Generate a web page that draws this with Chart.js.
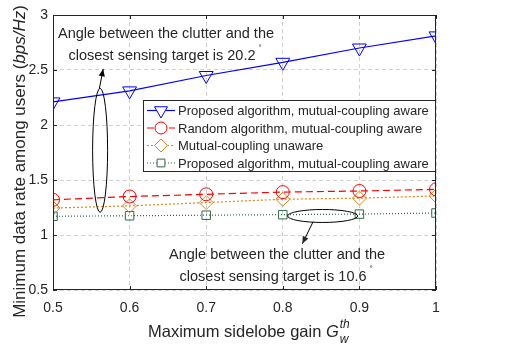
<!DOCTYPE html>
<html>
<head>
<meta charset="utf-8">
<script src="https://cdn.jsdelivr.net/npm/chart.js@4/dist/chart.umd.min.js"></script>
<style>
  html, body { margin: 0; padding: 0; background: #fff; }
  #wrap { width: 505px; height: 344px; }
</style>
</head>
<body>
<div id="wrap"><canvas id="lineChart" width="505" height="344"></canvas></div>
<script>
var gains = [0.5, 0.6, 0.7, 0.8, 0.9, 1.0];
var proposedAware = [2.21, 2.31, 2.45, 2.57, 2.70, 2.81];
var randomAware = [1.32, 1.35, 1.37, 1.39, 1.40, 1.415];
var couplingUnaware = [1.245, 1.265, 1.295, 1.325, 1.335, 1.355];
var proposedAware106 = [1.17, 1.175, 1.18, 1.185, 1.19, 1.20];
var xTicks = [0.5, 0.6, 0.7, 0.8, 0.9, 1];
var yTicks = [0.5, 1, 1.5, 2, 2.5, 3];
var seriesNames = [
  "Proposed algorithm, mutual-coupling aware",
  "Random algorithm, mutual-coupling aware",
  "Mutual-coupling unaware",
  "Proposed algorithm, mutual-coupling aware"
];

var FONT = "Liberation Sans, Arial, sans-serif";
var orange = "#E0861A";
var green = "#2F6B4A";

function pts(arr) {
  return arr.map(function (v, i) { return { x: gains[i], y: v }; });
}

// matlab style legend, annotations, axis titles and frame
var extras = {
  id: 'extras',
  afterDraw: function (chart) {
    var c = chart.ctx, a = chart.chartArea;
    var sx = chart.scales.x, sy = chart.scales.y;
    c.save();
    // frame
    c.strokeStyle = '#262626';
    c.lineWidth = 1;
    c.setLineDash([]);
    c.strokeRect(a.left + 0.5, a.top + 0.5, a.right - a.left - 1, a.bottom - a.top - 1);
    // inward ticks
    xTicks.forEach(function (t) {
      var px = Math.round(sx.getPixelForValue(t)) + 0.5;
      c.beginPath(); c.moveTo(px, a.bottom); c.lineTo(px, a.bottom - 4);
      c.moveTo(px, a.top); c.lineTo(px, a.top + 4); c.stroke();
    });
    yTicks.forEach(function (t) {
      var py = Math.round(sy.getPixelForValue(t)) + 0.5;
      c.beginPath(); c.moveTo(a.left, py); c.lineTo(a.left + 4, py);
      c.moveTo(a.right, py); c.lineTo(a.right - 4, py); c.stroke();
    });

    // legend
    var lx = 143, ly = 100, lw = 292, lh = 71;
    c.fillStyle = '#fff';
    c.fillRect(lx, ly, lw, lh);
    c.strokeStyle = '#262626';
    c.strokeRect(lx + 0.5, ly + 0.5, lw, lh);
    c.textBaseline = 'middle';
    c.textAlign = 'left';
    chart.data.datasets.forEach(function (ds, i) {
      var yy = ly + 10.5 + i * 17.5;
      c.strokeStyle = ds.borderColor;
      c.lineWidth = ds.borderWidth;
      c.setLineDash(ds.borderDash || []);
      c.beginPath(); c.moveTo(lx + 4, yy); c.lineTo(lx + 32, yy); c.stroke();
      c.setLineDash([]);
      c.lineWidth = 1;
      c.fillStyle = '#fff';
      Chart.helpers.drawPoint(c, {
        pointStyle: ds.pointStyle, radius: ds.pointRadius - 0.5, rotation: ds.pointRotation || 0,
        borderWidth: 1
      }, lx + 18, yy);
      c.fillStyle = '#262626';
      c.font = '13px ' + FONT;
      c.fillText(ds.label, lx + 35, yy + 1);
    });

    // annotations
    c.strokeStyle = '#000';
    c.fillStyle = '#000';
    c.lineWidth = 1;
    function ellipse(xv, yv, rx, ry) {
      c.beginPath();
      c.ellipse(sx.getPixelForValue(xv), sy.getPixelForValue(yv), rx, ry, 0, 0, Math.PI * 2);
      c.stroke();
    }
    function arrow(x0, y0, x1, y1) {
      var p0x = sx.getPixelForValue(x0), p0y = sy.getPixelForValue(y0);
      var p1x = sx.getPixelForValue(x1), p1y = sy.getPixelForValue(y1);
      c.beginPath(); c.moveTo(p0x, p0y); c.lineTo(p1x, p1y); c.stroke();
      var ang = Math.atan2(p1y - p0y, p1x - p0x), L = 8, W = 0.4;
      c.beginPath();
      c.moveTo(p1x, p1y);
      c.lineTo(p1x - L * Math.cos(ang - W), p1y - L * Math.sin(ang - W));
      c.lineTo(p1x - L * Math.cos(ang + W), p1y - L * Math.sin(ang + W));
      c.closePath(); c.fill();
    }
    function note(xv, yv, l1, l2) {
      var px = sx.getPixelForValue(xv), py = sy.getPixelForValue(yv);
      c.font = '14.5px ' + FONT;
      c.textAlign = 'center';
      c.textBaseline = 'middle';
      c.fillStyle = '#262626';
      c.fillText(l1, px, py);
      var w = c.measureText(l2).width;
      c.textAlign = 'left';
      var x2 = px - (w + 8) / 2;
      c.fillText(l2, x2, py + 22);
      c.font = '8px ' + FONT;
      c.fillText('\u00B0', x2 + w + 3, py + 14);
    }
    ellipse(0.5615, 1.77, 7.5, 62);
    arrow(0.5605, 2.33, 0.5655, 2.51);
    note(0.6475, 2.83, 'Angle between the clutter and the', 'closest sensing target is 20.2');
    ellipse(0.852, 1.173, 35, 6.5);
    arrow(0.8395, 1.12, 0.8255, 0.92);
    note(0.7925, 0.82, 'Angle between the clutter and the', 'closest sensing target is 10.6');

    // axis titles
    c.fillStyle = '#262626';
    c.textBaseline = 'alphabetic';
    var F = '16.5px ' + FONT, FI = 'italic 16.5px ' + FONT;
    var xt1 = 'Maximum sidelobe gain ';
    c.font = F;
    var w1 = c.measureText(xt1).width;
    c.font = FI;
    var wG = c.measureText('G').width;
    var bx = 148, by = 337;
    c.textAlign = 'left';
    c.font = F;
    c.fillText(xt1, bx, by);
    c.font = FI;
    c.fillText('G', bx + w1, by);
    c.font = 'italic 12px ' + FONT;
    c.fillText('th', bx + w1 + wG + 1, by - 9);
    c.fillText('w', bx + w1 + wG + 1, by + 6);

    c.translate(25, 161.5);
    c.rotate(-Math.PI / 2);
    var yt1 = 'Minimum data rate among users (';
    var yt2 = 'bps/Hz';
    var yt3 = ')';
    F = '17px ' + FONT; FI = 'italic 17px ' + FONT;
    c.font = F;
    var wa = c.measureText(yt1).width, wc = c.measureText(yt3).width;
    c.font = FI;
    var wb = c.measureText(yt2).width;
    var st = -(wa + wb + wc) / 2;
    c.font = F;
    c.fillText(yt1, st, 0);
    c.font = FI;
    c.fillText(yt2, st + wa, 0);
    c.font = F;
    c.fillText(yt3, st + wa + wb, 0);
    c.restore();
  }
};

var ctxL = document.getElementById("lineChart").getContext('2d');
var myLineChart = new Chart(ctxL, {
  type: 'line',
  data: {
    datasets: [{
        label: seriesNames[0],
        data: pts(proposedAware),
        borderColor: '#0000FF',
        backgroundColor: 'rgba(0,0,0,0)',
        borderWidth: 1.2,
        pointStyle: 'triangle',
        pointRotation: 180,
        pointRadius: 8,
        pointBorderWidth: 1
      },
      {
        label: seriesNames[1],
        data: pts(randomAware),
        borderColor: '#FF0000',
        backgroundColor: 'rgba(0,0,0,0)',
        borderWidth: 1.2,
        borderDash: [7, 4],
        pointStyle: 'circle',
        pointRadius: 6.5,
        pointBorderWidth: 1
      },
      {
        label: seriesNames[2],
        data: pts(couplingUnaware),
        borderColor: orange,
        backgroundColor: 'rgba(0,0,0,0)',
        borderWidth: 1.2,
        borderDash: [2, 2],
        pointStyle: 'rectRot',
        pointRadius: 7,
        pointBorderWidth: 1
      },
      {
        label: seriesNames[3],
        data: pts(proposedAware106),
        borderColor: green,
        backgroundColor: 'rgba(0,0,0,0)',
        borderWidth: 1.2,
        borderDash: [1, 2],
        pointStyle: 'rect',
        pointRadius: 6,
        pointBorderWidth: 1
      }
    ]
  },
  options: {
    responsive: false,
    animation: false,
    layout: { padding: { left: 0, right: 69, top: 15, bottom: 0 } },
    plugins: { legend: { display: false }, tooltip: { enabled: false } },
    scales: {
      x: {
        type: 'linear',
        min: 0.5, max: 1,
        afterFit: function (s) { s.height = 54; },
        afterBuildTicks: function (s) { s.ticks = xTicks.map(function (v) { return { value: v }; }); },
        ticks: {
          color: '#262626',
          font: { family: FONT, size: 14 },
          padding: 10,
          callback: function (v) { return String(Math.round(v * 10) / 10); }
        },
        grid: { color: '#D0D0D0', drawTicks: false },
        border: { display: false, dash: [4, 3] }
      },
      y: {
        min: 0.5, max: 3,
        afterFit: function (s) { s.width = 53; },
        afterBuildTicks: function (s) { s.ticks = yTicks.map(function (v) { return { value: v }; }); },
        ticks: {
          color: '#262626',
          font: { family: FONT, size: 14 },
          padding: 5,
          callback: function (v) { return String(v); }
        },
        grid: { color: '#D0D0D0', drawTicks: false },
        border: { display: false, dash: [4, 3] }
      }
    }
  },
  plugins: [extras]
});
</script>
</body>
</html>
